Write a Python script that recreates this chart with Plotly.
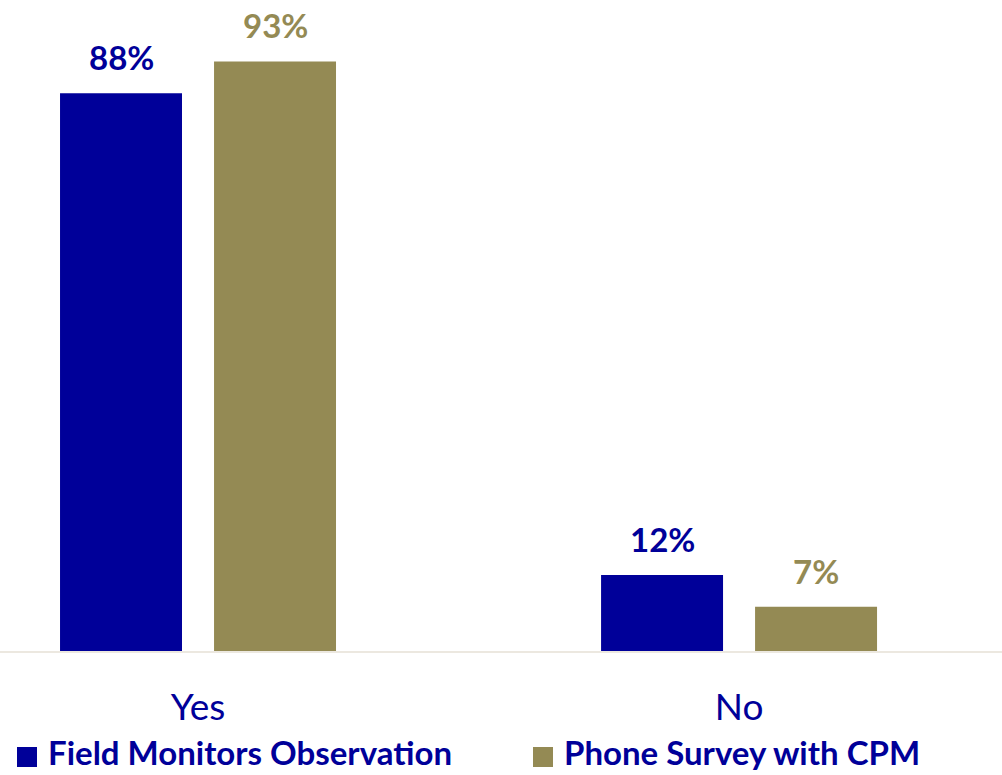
import plotly.graph_objects as go

# Survey results: share of respondents answering Yes / No
categories = ["Yes", "No"]
series_names = ["Field Monitors Observation", "Phone Survey with CPM"]
field_monitors = [88, 12]
phone_survey = [93, 7]

colors = ["#000099", "#948A54"]
text_color = "#000099"
font_family = "Lato, 'Open Sans', 'DejaVu Sans', sans-serif"

W, H = 1002, 775
MB = 124                      # bottom margin holding tick labels and legend
PLOT_H = H - MB

fig = go.Figure()
for name, vals, col in zip(series_names, [field_monitors, phone_survey], colors):
    fig.add_trace(go.Bar(
        name=name,
        x=categories,
        y=vals,
        marker=dict(color=col, line=dict(width=0)),
        hoverinfo="skip",
        showlegend=False,
    ))

# Value labels above each bar, coloured like the bar
bar_shift = 77  # px offset of each bar centre from its category centre
for k, (vals, col) in enumerate(zip([field_monitors, phone_survey], colors)):
    for cat, v in zip(categories, vals):
        fig.add_annotation(
            x=cat, y=v, xref="x", yref="y",
            text=f"<b>{v}%</b>",
            showarrow=False,
            yanchor="bottom",
            xshift=(-bar_shift if k == 0 else bar_shift),
            yshift=14,
            font=dict(family=font_family, size=33, color=col),
        )

# Legend row under the category labels: square swatch + bold series name
legend_left = [17, 533]       # px, left edge of each swatch
swatch = 20
legend_cy = 757               # px from top, centre line of the swatches
def px_x(p):
    return p / W
def px_y(p):
    return (PLOT_H - p) / PLOT_H

for name, col, x0 in zip(series_names, colors, legend_left):
    fig.add_shape(
        type="rect", xref="paper", yref="paper",
        x0=px_x(x0), x1=px_x(x0 + swatch),
        y0=px_y(legend_cy + swatch / 2), y1=px_y(legend_cy - swatch / 2),
        fillcolor=col, line=dict(width=0),
    )
    fig.add_annotation(
        xref="paper", yref="paper",
        x=px_x(x0 + swatch + 9), y=px_y(H - 1),
        xanchor="left", yanchor="bottom",
        text=f"<b>{name}</b>",
        showarrow=False,
        font=dict(family=font_family, size=33, color=text_color),
    )

fig.update_layout(
    width=W,
    height=H,
    margin=dict(l=0, r=0, t=0, b=MB, pad=0),
    paper_bgcolor="white",
    plot_bgcolor="white",
    barmode="group",
    bargap=0.4307,
    bargroupgap=0.208,
    showlegend=False,
    xaxis=dict(
        range=[-0.366, 1.486],
        showgrid=False,
        zeroline=False,
        showline=True,
        linecolor="#ECE8E0",
        linewidth=2,
        ticks="",
        tickfont=dict(family=font_family, size=37, color=text_color),
        ticklabelstandoff=23,
        automargin=False,
    ),
    yaxis=dict(
        range=[0, 102.7],
        visible=False,
        showgrid=False,
        zeroline=False,
    ),
)

fig.write_html("out.html")
